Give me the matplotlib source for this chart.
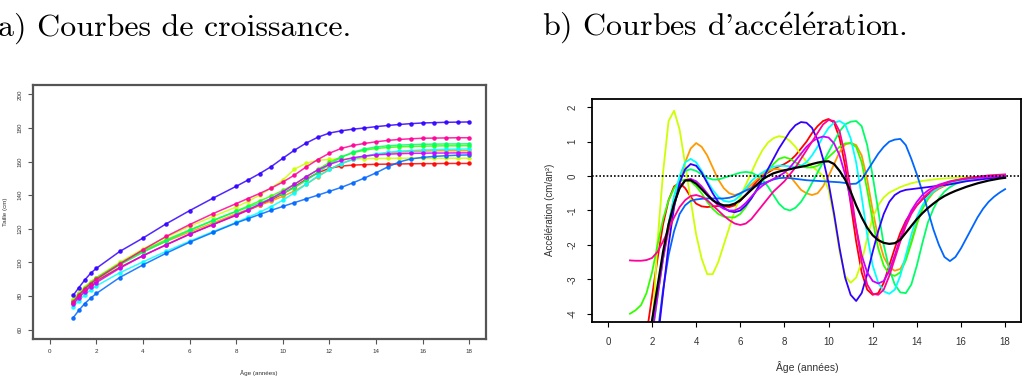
import matplotlib
matplotlib.use('Agg')
import matplotlib.pyplot as plt

plt.rcParams['axes.unicode_minus'] = False
plt.rcParams['font.family'] = ['Liberation Sans', 'DejaVu Sans']
plt.rcParams['mathtext.fontset'] = 'cm'

# --- growth curves (height in cm) ---
ages = [1, 1.25, 1.5, 1.75, 2, 3, 4, 5, 6, 7, 8, 8.5, 9, 9.5, 10, 10.5, 11, 11.5,
        12, 12.5, 13, 13.5, 14, 14.5, 15, 15.5, 16, 16.5, 17, 17.5, 18]

h_red = [76, 80, 83.5, 86.5, 89, 97, 104, 110.5, 116.8, 122.5, 128, 131, 134, 137.2, 140.8, 145,
         149.5, 153.3, 156, 157.3, 157.9, 158.2, 158.4, 158.5, 158.6, 158.7, 158.8, 158.8, 158.9, 158.9, 158.9]
h_orange = [77.5, 81.5, 85, 88, 90.5, 99, 106.5, 112.5, 118, 123.5, 129, 131.5, 134, 136.5, 139.3, 142.5,
            146.5, 151, 155.3, 158.8, 161.3, 163, 164.2, 165, 165.6, 166, 166.2, 166.4, 166.5, 166.5, 166.5]
h_yellow = [78, 82, 85.5, 88.5, 91, 100, 108, 115, 121.5, 127.3, 133, 136.3, 140, 144.3, 149, 155.5,
            159, 160.8, 161.3, 161.5, 161.7, 161.8, 161.9, 161.9, 162, 162, 162, 162, 162, 162, 162]
h_green = [77, 81, 84.8, 88, 90.8, 99.5, 107, 113.5, 119.3, 124.8, 130.5, 133.5, 136.5, 139.5, 142.8, 146.5,
           150.8, 155.3, 159.5, 162.8, 165.2, 166.8, 167.8, 168.4, 168.8, 169, 169.2, 169.3, 169.4, 169.4, 169.5]
h_spring = [76.5, 80.5, 84, 87, 89.8, 98.5, 106, 112.8, 119, 125, 130.3, 132.8, 135.3, 138, 141, 144.5,
            148.8, 153.5, 158.3, 162.5, 165.5, 167.5, 168.7, 169.4, 169.8, 170.1, 170.3, 170.4, 170.5, 170.5, 170.6]
h_cyan = [73.5, 77.3, 80.8, 83.6, 86, 93.8, 100.3, 106.6, 112.6, 118.3, 123.8, 126.8, 129.8, 133.2, 137, 141.5,
          146.5, 151.3, 155.3, 158.7, 161.3, 163.2, 164.6, 165.5, 166.2, 166.6, 166.9, 167.1, 167.3, 167.4, 167.5]
h_blue = [67, 71.5, 75.5, 78.7, 81.5, 91, 98.5, 105.5, 112, 117.8, 123.5, 126, 128.5, 131, 133.3, 135.6,
          137.8, 140, 142.3, 144.6, 147.3, 150.2, 153.3, 156.8, 159.8, 161.6, 162.5, 163.1, 163.5, 163.8, 164]
h_purple = [80.3, 85, 89.5, 93.5, 96.5, 106.5, 114.5, 123, 130.8, 138.2, 145.3, 149, 152.8, 157, 162, 166.8,
            171, 174.5, 177, 178.3, 179.3, 180, 180.8, 181.5, 182.1, 182.6, 183, 183.2, 183.4, 183.5, 183.6]
h_violet = [75, 79, 82.5, 85.5, 88, 96.5, 104, 110.5, 116.8, 122.5, 128.3, 131.3, 134.5, 138, 142, 146.5,
            151, 155, 158.3, 160.7, 162.3, 163.3, 164, 164.4, 164.7, 164.9, 165, 165.1, 165.1, 165.2, 165.2]
h_pink = [76.3, 80.5, 84.2, 87.3, 90, 99, 107.5, 115.5, 122.5, 129, 135, 138, 141, 144.2, 147.8, 152,
          156.8, 161.2, 165, 167.8, 169.6, 170.8, 171.8, 172.6, 173.2, 173.6, 173.9, 174, 174.1, 174.2, 174.2]

# --- acceleration curves (cm/an^2) on a quarter-year grid ---
ages_acc = [1.0, 1.25, 1.5, 1.75, 2.0, 2.25, 2.5, 2.75, 3.0, 3.25, 3.5, 3.75, 4.0, 4.25, 4.5, 4.75,
            5.0, 5.25, 5.5, 5.75, 6.0, 6.25, 6.5, 6.75, 7.0, 7.25, 7.5, 7.75, 8.0, 8.25, 8.5, 8.75,
            9.0, 9.25, 9.5, 9.75, 10.0, 10.25, 10.5, 10.75, 11.0, 11.25, 11.5, 11.75, 12.0, 12.25, 12.5, 12.75,
            13.0, 13.25, 13.5, 13.75, 14.0, 14.25, 14.5, 14.75, 15.0, 15.25, 15.5, 15.75, 16.0, 16.25, 16.5, 16.75,
            17.0, 17.25, 17.5, 17.75, 18.0]

a_red = [-9.0, -7.5, -6.0, -4.6, -3.5, -2.4, -1.4, -0.7, -0.3, -0.2, -0.35, -0.6,
         -0.8, -0.88, -0.9, -0.88, -0.87, -0.88, -0.9, -0.85, -0.72, -0.55, -0.35, -0.15,
         0.0, 0.1, 0.2, 0.28, 0.35, 0.45, 0.6, 0.8, 1.0, 1.25, 1.45, 1.6,
         1.66, 1.55, 1.1, 0.3, -0.8, -1.9, -2.8, -3.3, -3.45, -3.4, -3.1, -2.6,
         -2.1, -1.65, -1.3, -1.05, -0.85, -0.68, -0.55, -0.45, -0.36, -0.28, -0.22, -0.17,
         -0.13, -0.1, -0.08, -0.06, -0.04, -0.03, -0.01, 0.0, 0.02]
a_orange = [-9.0, -8.0, -6.8, -5.5, -4.2, -3.3, -2.4, -1.6, -0.9, -0.2, 0.4, 0.8,
            0.96, 0.85, 0.6, 0.25, -0.1, -0.35, -0.5, -0.55, -0.5, -0.4, -0.25, -0.1,
            0.05, 0.15, 0.2, 0.2, 0.15, 0.0, -0.2, -0.4, -0.5, -0.55, -0.5, -0.3,
            0.0, 0.35, 0.7, 0.92, 0.97, 0.9, 0.6, -0.1, -1.0, -1.8, -2.35, -2.65,
            -2.75, -2.7, -2.4, -1.9, -1.35, -0.95, -0.68, -0.48, -0.36, -0.28, -0.22, -0.17,
            -0.13, -0.1, -0.08, -0.06, -0.04, -0.03, -0.02, 0.0, 0.02]
a_yellow = [-9.0, -8.0, -7.0, -5.8, -4.6, -1.9, 0.1, 1.6, 1.9, 1.35, 0.35, -0.7,
            -1.7, -2.4, -2.85, -2.85, -2.5, -2.0, -1.5, -1.0, -0.6, -0.25, 0.1, 0.45,
            0.75, 0.97, 1.1, 1.16, 1.13, 1.02, 0.85, 0.62, 0.42, 0.28, 0.15, 0.0,
            -0.4, -1.2, -2.2, -2.9, -3.1, -2.95, -2.5, -1.8, -1.2, -0.85, -0.62, -0.48,
            -0.4, -0.32, -0.26, -0.21, -0.17, -0.14, -0.12, -0.1, -0.08, -0.07, -0.06, -0.05,
            -0.04, -0.03, -0.03, -0.02, -0.01, -0.01, 0.0, 0.01, 0.02]
a_green = [-4.0, -3.9, -3.75, -3.4, -2.8, -2.0, -1.25, -0.7, -0.35, -0.15, -0.1, -0.15,
           -0.3, -0.5, -0.75, -0.95, -1.1, -1.18, -1.2, -1.2, -1.1, -0.9, -0.65, -0.38,
           -0.1, 0.15, 0.35, 0.5, 0.55, 0.5, 0.4, 0.3, 0.25, 0.25, 0.3, 0.4,
           0.55, 0.7, 0.85, 0.95, 0.95, 0.85, 0.4, -0.4, -1.3, -2.1, -2.6, -2.85,
           -2.9, -2.8, -2.45, -1.95, -1.4, -0.95, -0.65, -0.45, -0.33, -0.25, -0.19, -0.14,
           -0.1, -0.07, -0.05, -0.03, -0.02, -0.01, 0.0, 0.01, 0.02]
a_spring = [-10.0, -9.0, -7.5, -6.0, -4.7, -3.5, -2.4, -1.4, -0.6, -0.1, 0.15, 0.2,
            0.15, 0.05, -0.05, -0.1, -0.1, -0.05, 0.0, 0.05, 0.1, 0.12, 0.1, 0.02,
            -0.1, -0.3, -0.55, -0.8, -0.95, -1.0, -0.92, -0.75, -0.5, -0.2, 0.1, 0.4,
            0.7, 1.0, 1.3, 1.5, 1.58, 1.6, 1.45, 0.9, 0.0, -1.0, -2.0, -2.7,
            -3.15, -3.38, -3.4, -3.15, -2.6, -1.95, -1.35, -0.95, -0.65, -0.45, -0.32, -0.23,
            -0.17, -0.12, -0.08, -0.05, -0.03, -0.01, 0.0, 0.01, 0.02]
a_cyan = [-9.0, -8.0, -7.0, -5.5, -4.5, -3.4, -2.3, -1.4, -0.6, 0.0, 0.4, 0.5,
          0.4, 0.15, -0.15, -0.4, -0.6, -0.72, -0.75, -0.7, -0.55, -0.35, -0.15, 0.0,
          0.1, 0.2, 0.27, 0.3, 0.3, 0.28, 0.27, 0.3, 0.4, 0.6, 0.85, 1.15,
          1.4, 1.55, 1.6, 1.5, 1.1, 0.4, -0.6, -1.7, -2.6, -3.1, -3.35, -3.42,
          -3.3, -2.9, -2.3, -1.7, -1.2, -0.85, -0.6, -0.45, -0.33, -0.26, -0.2, -0.16,
          -0.12, -0.09, -0.07, -0.05, -0.04, -0.02, -0.01, 0.0, 0.02]
a_blue = [-12.0, -10.5, -9.0, -7.5, -6.0, -4.6, -3.3, -2.3, -1.6, -1.1, -0.85, -0.72,
          -0.68, -0.66, -0.65, -0.65, -0.65, -0.65, -0.63, -0.58, -0.5, -0.42, -0.35, -0.28,
          -0.22, -0.16, -0.1, -0.06, -0.05, -0.06, -0.08, -0.1, -0.12, -0.13, -0.14, -0.15,
          -0.16, -0.17, -0.18, -0.2, -0.23, -0.22, -0.1, 0.15, 0.4, 0.65, 0.85, 1.0,
          1.06, 1.08, 0.9, 0.5, 0.05, -0.45, -1.0, -1.55, -2.0, -2.35, -2.47, -2.35,
          -2.1, -1.8, -1.5, -1.2, -0.95, -0.75, -0.6, -0.48, -0.38]
a_purple = [-12.0, -10.5, -9.0, -7.5, -6.0, -4.8, -3.4, -2.0, -0.9, -0.2, 0.2, 0.35,
            0.3, 0.1, -0.2, -0.5, -0.75, -0.92, -1.02, -1.05, -1.0, -0.85, -0.65, -0.4,
            -0.1, 0.2, 0.5, 0.8, 1.05, 1.3, 1.48, 1.57, 1.55, 1.4, 1.05, 0.5,
            -0.2, -1.1, -2.1, -2.95, -3.45, -3.63, -3.4, -2.85, -2.2, -1.6, -1.1, -0.75,
            -0.55, -0.45, -0.4, -0.38, -0.36, -0.34, -0.32, -0.3, -0.28, -0.26, -0.24, -0.21,
            -0.18, -0.15, -0.13, -0.11, -0.09, -0.07, -0.05, -0.03, -0.02]
a_violet = [-9.0, -8.0, -7.0, -5.8, -4.6, -3.5, -2.4, -1.5, -0.8, -0.35, -0.12, -0.08,
            -0.15, -0.3, -0.5, -0.7, -0.85, -0.95, -1.0, -1.0, -0.92, -0.78, -0.6, -0.42,
            -0.28, -0.17, -0.08, 0.0, 0.1, 0.25, 0.45, 0.65, 0.85, 1.0, 1.1, 1.15,
            1.12, 0.95, 0.6, 0.05, -0.7, -1.5, -2.3, -2.8, -3.05, -3.12, -3.05, -2.75,
            -2.3, -1.8, -1.35, -1.0, -0.75, -0.55, -0.42, -0.32, -0.25, -0.2, -0.15, -0.12,
            -0.1, -0.08, -0.06, -0.05, -0.04, -0.03, -0.02, -0.01, 0.0]
a_pink = [-2.45, -2.46, -2.46, -2.44, -2.38, -2.2, -1.9, -1.55, -1.2, -0.9, -0.7, -0.58,
          -0.55, -0.6, -0.7, -0.85, -1.0, -1.15, -1.28, -1.38, -1.42, -1.38, -1.25, -1.05,
          -0.85, -0.65, -0.45, -0.3, -0.15, 0.05, 0.25, 0.5, 0.75, 1.0, 1.25, 1.5,
          1.63, 1.6, 1.3, 0.6, -0.4, -1.5, -2.5, -3.15, -3.42, -3.45, -3.3, -2.9,
          -2.4, -1.9, -1.45, -1.1, -0.85, -0.65, -0.5, -0.38, -0.3, -0.23, -0.17, -0.13,
          -0.09, -0.06, -0.04, -0.02, 0.0, 0.02, 0.03, 0.04, 0.05]
a_mean = [-9.0, -8.0, -7.0, -5.5, -4.2, -3.2, -2.2, -1.4, -0.8, -0.35, -0.13, -0.12,
          -0.22, -0.38, -0.55, -0.7, -0.8, -0.85, -0.85, -0.8, -0.7, -0.55, -0.4, -0.25,
          -0.1, 0.0, 0.08, 0.13, 0.17, 0.2, 0.24, 0.27, 0.3, 0.35, 0.39, 0.42,
          0.43, 0.35, 0.15, -0.1, -0.45, -0.85, -1.2, -1.5, -1.72, -1.86, -1.94, -1.97,
          -1.95, -1.85, -1.65, -1.45, -1.25, -1.08, -0.93, -0.8, -0.68, -0.58, -0.5, -0.43,
          -0.37, -0.31, -0.26, -0.21, -0.17, -0.13, -0.1, -0.07, -0.05]

colors = ['#FF0000', '#FF9900', '#CCFF00', '#33FF00', '#00FF66',
          '#00FFFF', '#0066FF', '#3300FF', '#CC00FF', '#FF0099']
heights = [h_red, h_orange, h_yellow, h_green, h_spring, h_cyan, h_blue, h_purple, h_violet, h_pink]
accels = [a_red, a_orange, a_yellow, a_green, a_spring, a_cyan, a_blue, a_purple, a_violet, a_pink]

W, H = 1024, 385
fig = plt.figure(figsize=(W / 100, H / 100), dpi=100)


def px_axes(left, top, right, bottom):
    return fig.add_axes([left / W, 1 - bottom / H, (right - left) / W, (bottom - top) / H])


def r_style(ax, edge, lw, size, pad):
    for s in ax.spines.values():
        s.set_color(edge)
        s.set_linewidth(lw)
    ax.tick_params(direction='out', length=3.5, width=0.8, color=edge,
                   labelsize=size, labelcolor='#333333', pad=pad)
    for lab in ax.get_yticklabels():
        lab.set_rotation(90)
        lab.set_va('center')


# a) growth curves
ax1 = px_axes(33, 85, 486, 339)
for h, c in zip(heights, colors):
    ax1.plot(ages, h, color=c, lw=1.1, marker='o', ms=2.3, mec=c, mfc=c, alpha=0.85)
ax1.set_xlim(-0.72, 18.72)
ax1.set_ylim(54.4, 205.6)
ax1.set_xticks(range(0, 19, 2))
ax1.set_yticks(range(60, 201, 20))
r_style(ax1, '#555555', 1.6, 4.5, 4)
fig.text(3 / W, 1 - 212 / H, 'Taille (cm)', rotation=90, fontsize=4.5, color='#333333',
         ha='left', va='center')
fig.text(259 / W, 1 - 373 / H, 'Âge (années)', fontsize=4.5, color='#333333',
         ha='center', va='center')

# b) acceleration curves
ax2 = px_axes(592, 99, 1021, 322)
for a, c in zip(accels, colors):
    ax2.plot(ages_acc, a, color=c, lw=1.3)
ax2.plot(ages_acc, a_mean, color='black', lw=1.6)
ax2.axhline(0, color='black', lw=1.2, ls=(0, (1, 1.2)))
ax2.set_xlim(-0.72, 18.72)
ax2.set_ylim(-4.24, 2.24)
ax2.set_xticks(range(0, 19, 2))
ax2.set_yticks(range(-4, 3))
r_style(ax2, 'black', 1.3, 7, 7)
fig.text(550 / W, 1 - 210 / H, 'Accélération (cm/an²)', rotation=90, fontsize=7,
         color='#333333', ha='center', va='center')
fig.text(807 / W, 1 - 367 / H, 'Âge (années)', fontsize=7.5, color='#333333',
         ha='center', va='center')

# panel titles (Computer Modern; accents through mathtext, cmr10 quote for the apostrophe)
e_acute = r'$\acute{\mathrm{e}}$'
fig.text(-2 / W, 1 - 36 / H, 'a) Courbes de croissance.', fontsize=23, family='cmr10',
         ha='left', va='baseline')
fig.text(542 / W, 1 - 36 / H, "b) Courbes d'acc" + e_acute + 'l' + e_acute + 'ration.',
         fontsize=23, family='cmr10', ha='left', va='baseline')

fig.savefig('out.png', dpi=100)
